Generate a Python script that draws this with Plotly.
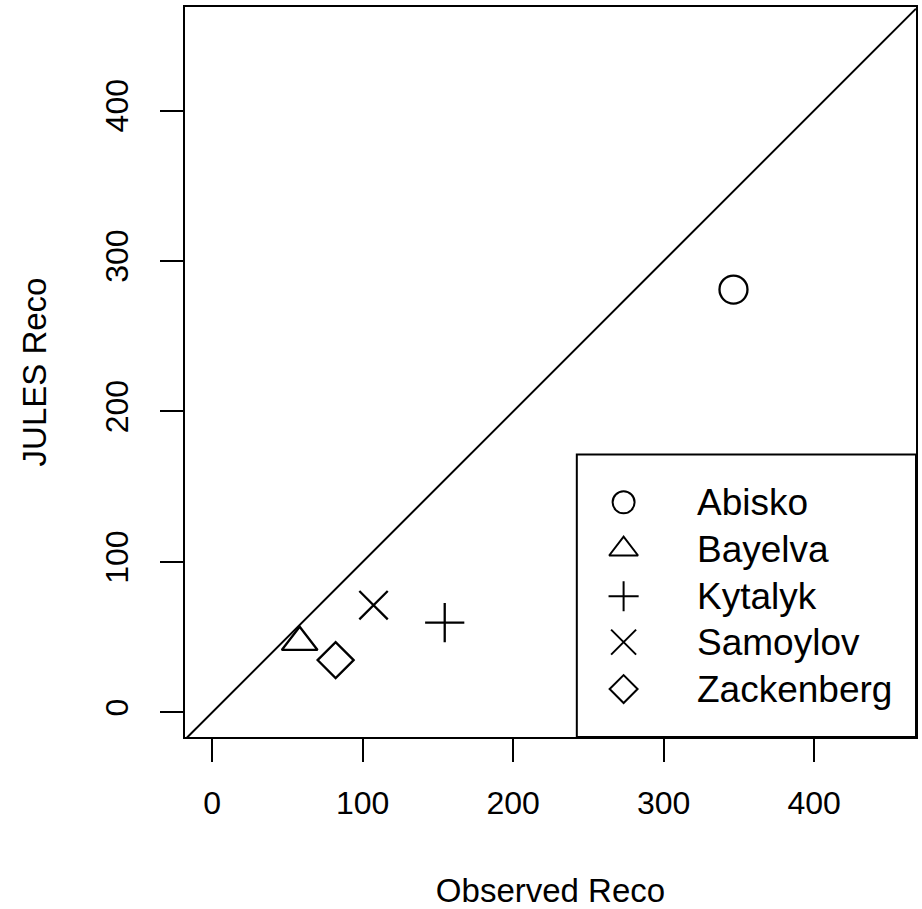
import plotly.graph_objects as go

# ---- data ----
sites = ["Abisko", "Bayelva", "Kytalyk", "Samoylov", "Zackenberg"]
observed_reco = [346.4, 58.1, 154.5, 107.2, 82.0]
jules_reco = [281.0, 46.6, 59.6, 71.2, 34.7]
tick_vals = [0, 100, 200, 300, 400]
x_range = [-18.1, 467.7]
y_range = [-16.4, 468.8]

# ---- styles ----
symbols = ["circle-open", "triangle-up-open", "cross-thin-open", "x-thin-open", "diamond-open"]
plot_sizes = [28, 31, 28, 28.4, 27.7]
legend_sizes = [22, 25, 21.5, 25, 21.5]
FONT = "Liberation Sans, Arial, sans-serif"

fig = go.Figure()

# 1:1 reference line
fig.add_trace(go.Scatter(
    x=x_range, y=x_range, mode="lines",
    line=dict(color="black", width=2), hoverinfo="skip", showlegend=False,
))

for name, xv, yv, sym, sz in zip(sites, observed_reco, jules_reco, symbols, plot_sizes):
    fig.add_trace(go.Scatter(
        x=[xv], y=[yv], mode="markers", name=name, showlegend=False,
        marker=dict(symbol=sym, size=sz, color="black",
                    line=dict(color="black", width=2.3)),
    ))

# ---- manual legend (box, symbols on an overlay axis, text annotations) ----
leg_x0, leg_y1 = 0.536, 0.387
sym_x, txt_x = 0.600, 0.698
row_y = [0.3215, 0.2572, 0.1929, 0.1300, 0.0657]

fig.add_shape(type="rect", xref="paper", yref="paper",
              x0=leg_x0, x1=1.0, y0=0.0, y1=leg_y1,
              line=dict(color="black", width=2), layer="above")

for name, sym, sz, ry in zip(sites, symbols, legend_sizes, row_y):
    fig.add_trace(go.Scatter(
        x=[sym_x], y=[ry], mode="markers", xaxis="x2", yaxis="y2",
        showlegend=False, hoverinfo="skip",
        marker=dict(symbol=sym, size=sz, color="black",
                    line=dict(color="black", width=2)),
    ))
    fig.add_annotation(x=txt_x, y=ry, xref="paper", yref="paper",
                       text=name, showarrow=False, xanchor="left", yanchor="middle",
                       font=dict(family=FONT, size=37, color="black"))

axis_common = dict(
    showgrid=False, zeroline=False, showline=True, mirror=True,
    linecolor="black", linewidth=2,
    ticks="outside", ticklen=23, tickwidth=2, tickcolor="black",
    tickvals=tick_vals, ticktext=[str(v) for v in tick_vals],
    tickfont=dict(family=FONT, size=32, color="black"),
)

fig.update_layout(
    width=922, height=909,
    margin=dict(l=185, r=4, t=7, b=171),
    plot_bgcolor="white", paper_bgcolor="white",
    showlegend=False,
    xaxis=dict(range=x_range, ticklabelstandoff=14,
               title=dict(text="Observed Reco", standoff=60,
                          font=dict(family=FONT, size=33, color="black")),
               **axis_common),
    yaxis=dict(range=y_range, tickangle=-90, ticklabelstandoff=19,
               title=dict(text="JULES Reco", standoff=43,
                          font=dict(family=FONT, size=33, color="black")),
               **axis_common),
    xaxis2=dict(range=[0, 1], overlaying="x", visible=False, fixedrange=True),
    yaxis2=dict(range=[0, 1], overlaying="y", visible=False, fixedrange=True),
)

fig.write_html("out.html")
